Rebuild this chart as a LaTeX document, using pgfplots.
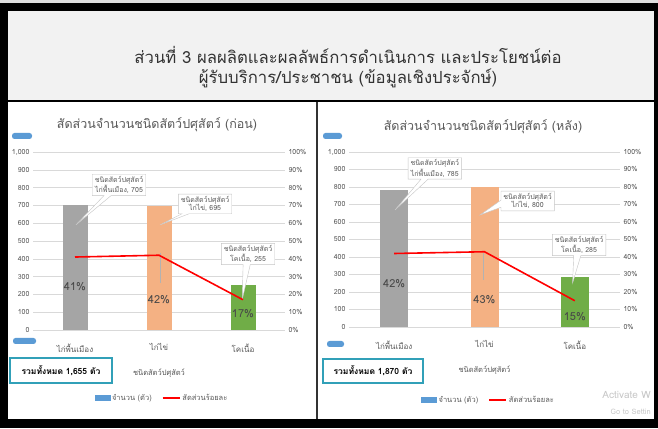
\documentclass[border=0pt]{standalone}
\usepackage{pgfplots}
\pgfplotsset{compat=1.18}
\usepackage{fontspec}
\setmainfont[Script=Thai]{Loma}
\usetikzlibrary{shapes.callouts}
\definecolor{barGray}{HTML}{A5A5A5}
\definecolor{barOrange}{HTML}{F4B183}
\definecolor{barGreen}{HTML}{70AD47}
\definecolor{legBlue}{HTML}{5B9BD5}
\definecolor{txtGray}{HTML}{595959}
\definecolor{gridGray}{HTML}{D9D9D9}
\definecolor{teal}{HTML}{31A0B8}
\definecolor{hdrGray}{HTML}{F2F2F2}
\tikzset{
  call/.style={rectangle callout, fill=white, draw=gray!45, font=\fontsize{7}{8.5}\selectfont, align=center, text=txtGray, inner xsep=2.5pt, inner ysep=2pt},
  pct/.style={font=\fontsize{11}{12}\selectfont, text=txtGray!80!black},
}
\pgfplotsset{
  barax/.style={scale only axis, anchor=south west,
    xmin=-0.5, xmax=2.5, ymin=0, ymax=1000,
    ytick={0,100,...,1000}, xtick={0,1,2},
    xticklabels={ไก่พื้นเมือง,ไก่ไข่,โคเนื้อ},
    axis x line*=bottom, axis y line*=left,
    y axis line style={draw=none}, x axis line style={draw=gridGray},
    ymajorgrids, grid style={gridGray},
    major tick length=0pt,
    tick label style={font=\fontsize{7}{8}\selectfont, text=txtGray},
    xticklabel style={font=\fontsize{8}{9}\selectfont, yshift=-10pt},
    /pgf/number format/1000 sep={,},
    /pgf/number format/assume math mode=true,
    xlabel={ชนิดสัตว์ปศุสัตว์},
    every axis x label/.style={at={(axis description cs:0.5,0)}, yshift=-43pt, anchor=center, font=\fontsize{7.5}{8}\selectfont, text=txtGray},
  },
  lineax/.style={scale only axis, anchor=south west,
    xmin=-0.5, xmax=2.5, ymin=0, ymax=100,
    ytick={0,10,...,100}, hide x axis,
    axis y line*=right, y axis line style={draw=none},
    major tick length=0pt,
    yticklabel={\pgfmathprintnumber{\tick}\%},
    tick label style={font=\fontsize{7}{8}\selectfont, text=txtGray},
    /pgf/number format/assume math mode=true,
    legend columns=2,
    legend style={draw=none, fill=none, font=\fontsize{7.5}{8}\selectfont, text=txtGray, anchor=center},
    /tikz/every even column/.append style={column sep=8pt},
  },
}
\begin{document}
\begin{tikzpicture}
\path[use as bounding box] (0,0) rectangle (658pt,428pt);
\begin{scope}[x=1pt, y=-1pt, shift={(0,428pt)}]
  \fill[gray!25] (0,0) rectangle (658,428);
  \fill[black] (0,3) rectangle (658,428);
  \fill[hdrGray] (8,11) rectangle (654,100);
  \fill[white] (8,102) rectangle (654,419);
  \fill[black!80] (316,102) rectangle (318,419);
  \node[font=\fontsize{16.7}{20}\selectfont, text=black!80, align=center] at (348,67) {ส่วนที่ 3 ผลผลิตและผลลัพธ์การดำเนินการ และประโยชน์ต่อ\\ผู้รับบริการ/ประชาชน (ข้อมูลเชิงประจักษ์)};
  \node[font=\fontsize{12.5}{14}\selectfont, text=txtGray] at (157,125) {สัดส่วนจำนวนชนิดสัตว์ปศุสัตว์ (ก่อน)};
  \node[font=\fontsize{12.5}{14}\selectfont, text=txtGray] at (483,127) {สัดส่วนจำนวนชนิดสัตว์ปศุสัตว์ (หลัง)};
  % selection handles
  \fill[legBlue, rounded corners=2.5pt] (12,133) rectangle (32,139);
  \fill[legBlue, rounded corners=2.5pt] (13,338) rectangle (36,344);
  \fill[legBlue, rounded corners=2.5pt] (323,133) rectangle (342,139);
  \fill[legBlue, rounded corners=2.5pt] (327,341) rectangle (344,347);
  % total boxes
  \draw[teal, line width=1.8pt, fill=white] (10,358) rectangle (112,383);
  \node[font=\fontsize{8.5}{10}\selectfont\bfseries] at (61,370.5) {รวมทั้งหมด 1,655 ตัว};
  \draw[teal, line width=1.8pt, fill=white] (323,359) rectangle (423,383);
  \node[font=\fontsize{8.5}{10}\selectfont\bfseries] at (373,371) {รวมทั้งหมด 1,870 ตัว};
  % watermark
  \node[anchor=east, font=\fontsize{10}{11}\selectfont, text=black!22, inner sep=0pt] at (651,395) {Activate W};
  \node[anchor=east, font=\fontsize{7.5}{9}\selectfont, text=black!22, inner sep=0pt] at (651,412) {Go to Settin};
\end{scope}

% ---------- left panel ----------
\begin{axis}[barax, width=252pt, height=178pt, at={(33pt,98pt)}]
  \addplot[ybar, bar width=25pt, bar shift=0pt, fill=barGray, draw=none] coordinates {(0,705)};
  \addplot[ybar, bar width=25pt, bar shift=0pt, fill=barOrange, draw=none] coordinates {(1,695)};
  \addplot[ybar, bar width=25pt, bar shift=0pt, fill=barGreen, draw=none] coordinates {(2,255)};
  \draw[gray!60] (axis cs:1.01,430) -- (axis cs:1.01,265);
  \node[pct] at (axis cs:0,241) {41\%};
  \node[pct] at (axis cs:1,169) {42\%};
  \node[pct] at (axis cs:2,90) {17\%};
  \node[call, callout absolute pointer={(axis cs:0.01,590)}] at (axis cs:0.524,815) {ชนิดสัตว์ปศุสัตว์\\ไก่พื้นเมือง, 705};
  \node[call, callout absolute pointer={(axis cs:1.01,590)}] at (axis cs:1.548,708) {ชนิดสัตว์ปศุสัตว์\\ไก่ไข่, 695};
  \node[call, callout absolute pointer={(axis cs:1.99,169)}] at (axis cs:2.06,427) {ชนิดสัตว์ปศุสัตว์\\โคเนื้อ, 255};
\end{axis}
\begin{axis}[lineax, width=252pt, height=178pt, at={(33pt,98pt)},
  legend style={at={(0.512,-0.382)}}]
  \addlegendimage{legend image code/.code={\fill[legBlue] (0pt,-2.5pt) rectangle (15pt,2.5pt);}}
  \addlegendentry{จำนวน (ตัว)}
  \addplot[red, line width=1.6pt, mark=none] coordinates {(0,41) (1,42) (2,17)};
  \addlegendentry{สัดส่วนร้อยละ}
\end{axis}

% ---------- right panel ----------
\begin{axis}[barax, width=271pt, height=175pt, at={(349pt,101pt)}]
  \addplot[ybar, bar width=28pt, bar shift=0pt, fill=barGray, draw=none] coordinates {(0,785)};
  \addplot[ybar, bar width=28pt, bar shift=0pt, fill=barOrange, draw=none] coordinates {(1,800)};
  \addplot[ybar, bar width=28pt, bar shift=0pt, fill=barGreen, draw=none] coordinates {(2,285)};
  \draw[gray!60] (axis cs:0.99,420) -- (axis cs:0.99,270);
  \node[pct] at (axis cs:0,246) {42\%};
  \node[pct] at (axis cs:1,154) {43\%};
  \node[pct] at (axis cs:2,57) {15\%};
  \node[call, callout absolute pointer={(axis cs:0.01,669)}] at (axis cs:0.45,906) {ชนิดสัตว์ปศุสัตว์\\ไก่พื้นเมือง, 785};
  \node[call, callout absolute pointer={(axis cs:0.95,640)}] at (axis cs:1.478,720) {ชนิดสัตว์ปศุสัตว์\\ไก่ไข่, 800};
  \node[call, callout absolute pointer={(axis cs:1.975,251)}] at (axis cs:2.047,469) {ชนิดสัตว์ปศุสัตว์\\โคเนื้อ, 285};
\end{axis}
\begin{axis}[lineax, width=271pt, height=175pt, at={(349pt,101pt)},
  legend style={at={(0.515,-0.417)}}]
  \addlegendimage{legend image code/.code={\fill[legBlue] (0pt,-2.5pt) rectangle (15pt,2.5pt);}}
  \addlegendentry{จำนวน (ตัว)}
  \addplot[red, line width=1.6pt, mark=none] coordinates {(0,42) (1,43) (2,15)};
  \addlegendentry{สัดส่วนร้อยละ}
\end{axis}
\end{tikzpicture}
\end{document}
